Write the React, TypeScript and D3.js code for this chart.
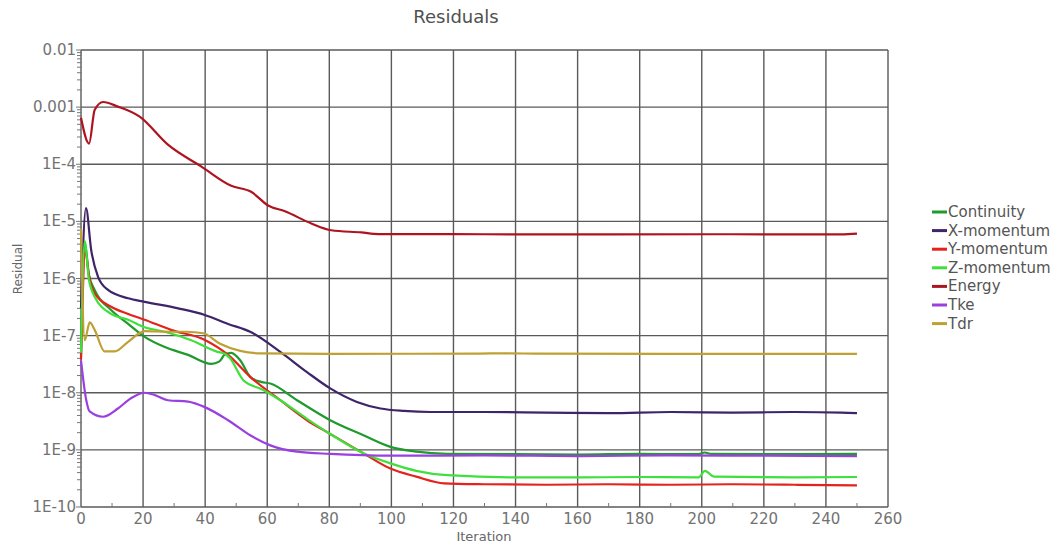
import React from 'react';
import * as d3 from 'd3';

// [iteration, residual]
const continuity: [number, number][] = [
  [0, 4.3e-8], [1.3, 4.1e-6], [2.5, 1.2e-6], [4.4, 6.3e-7], [9.7, 2.8e-7], [15.2, 1.6e-7],
  [20.5, 9.5e-8], [27, 6.3e-8], [34.5, 4.6e-8], [42, 3.2e-8], [44.5, 3.5e-8], [46.4, 4.7e-8],
  [48.4, 5.0e-8], [51.3, 3.7e-8], [54.5, 1.9e-8], [58, 1.55e-8], [61, 1.45e-8], [69.6, 7.4e-9],
  [80.3, 3.3e-9], [91, 1.8e-9], [99.7, 1.13e-9], [108, 9.3e-10], [118, 8.5e-10], [140, 8.4e-10],
  [160, 8.3e-10], [180, 8.5e-10], [199, 8.4e-10], [201, 9.0e-10], [203, 8.5e-10], [230, 8.4e-10],
  [250, 8.5e-10],
];
const xMomentum: [number, number][] = [
  [0, 3e-7], [1.6, 1.7e-5], [3.3, 3.1e-6], [5.5, 1.07e-6], [8.7, 6.3e-7], [15.2, 4.5e-7],
  [20.5, 3.9e-7], [31.3, 3.0e-7], [39.9, 2.3e-7], [47.4, 1.6e-7], [54.5, 1.17e-7], [64.2, 5.2e-8],
  [72.8, 2.3e-8], [80.3, 1.19e-8], [88.9, 6.9e-9], [96.5, 5.3e-9], [104, 4.8e-9], [112.6, 4.6e-9],
  [130, 4.6e-9], [150, 4.5e-9], [170, 4.4e-9], [190, 4.6e-9], [210, 4.5e-9], [230, 4.6e-9],
  [245, 4.5e-9], [250, 4.4e-9],
];
const yMomentum: [number, number][] = [
  [0, 3.8e-8], [1.4, 3.0e-6], [2.6, 1.1e-6], [4.4, 5.5e-7], [9.7, 3.2e-7], [15.2, 2.4e-7],
  [20.5, 1.9e-7], [29, 1.26e-7], [39.9, 8.4e-8], [47.4, 4.6e-8], [54.5, 1.9e-8], [64.2, 7.4e-9],
  [72.8, 3.3e-9], [80.3, 1.9e-9], [91, 8.7e-10], [99.7, 4.7e-10], [108, 3.4e-10], [117, 2.6e-10],
  [130, 2.5e-10], [150, 2.45e-10], [170, 2.5e-10], [190, 2.45e-10], [210, 2.5e-10], [230, 2.45e-10],
  [250, 2.4e-10],
];
const zMomentum: [number, number][] = [
  [0, 5e-8], [1.2, 4.5e-6], [2.5, 1.0e-6], [4.4, 4.8e-7], [9.7, 2.4e-7], [15.2, 1.9e-7],
  [20.5, 1.4e-7], [27, 1.17e-7], [35.5, 8.3e-8], [44, 5.2e-8], [46.3, 4.8e-8], [48, 4.0e-8],
  [52.3, 1.66e-8], [58.7, 1.12e-8], [64.2, 7.4e-9], [72.8, 3.5e-9], [80.3, 1.9e-9], [91, 8.7e-10],
  [99.7, 5.8e-10], [108, 4.3e-10], [118, 3.6e-10], [140, 3.3e-10], [160, 3.3e-10], [180, 3.35e-10],
  [199, 3.3e-10], [201, 4.3e-10], [204, 3.4e-10], [230, 3.3e-10], [250, 3.35e-10],
];
const energy: [number, number][] = [
  [0, 6.5e-4], [2.6, 2.3e-4], [4.4, 8.9e-4], [7.1, 1.23e-3], [11.9, 1.02e-3], [18.9, 6.8e-4],
  [28, 2.2e-4], [38.8, 9.1e-5], [48.4, 4.2e-5], [54.8, 3.3e-5], [60.3, 1.9e-5], [65.7, 1.5e-5],
  [74.2, 9.2e-6], [80.6, 7.0e-6], [90.3, 6.4e-6], [95.8, 6.0e-6], [130, 5.95e-6], [170, 5.9e-6],
  [210, 5.95e-6], [245, 5.9e-6], [250, 6.1e-6],
];
const tke: [number, number][] = [
  [0, 3.7e-8], [1.7, 7.4e-9], [2.8, 4.7e-9], [7.1, 3.8e-9], [11.9, 5.3e-9], [16.1, 8.0e-9],
  [20.5, 1.0e-8], [23.8, 9.1e-9], [28, 7.4e-9], [34.5, 7.0e-9], [39.9, 5.6e-9], [47.4, 3.3e-9],
  [54.5, 1.8e-9], [61, 1.2e-9], [69.6, 9.3e-10], [80.3, 8.5e-10], [100, 7.9e-10], [130, 8.0e-10],
  [160, 7.8e-10], [190, 8.0e-10], [220, 7.9e-10], [250, 7.8e-10],
];
const tdr: [number, number][] = [
  [0, 7.5e-6], [1.2, 8.3e-8], [2.8, 1.7e-7], [4.4, 1.26e-7], [7.6, 5.3e-8], [10.9, 5.3e-8],
  [15.2, 7.8e-8], [20.5, 1.2e-7], [28.7, 1.17e-7], [34, 1.17e-7], [39.4, 1.1e-7], [44.8, 7.2e-8],
  [51.3, 5.4e-8], [57.7, 4.9e-8], [80, 4.8e-8], [128, 4.85e-8], [137, 4.9e-8], [146, 4.85e-8],
  [190, 4.8e-8], [220, 4.8e-8], [250, 4.8e-8],
];

const seriesNames = ['Continuity', 'X-momentum', 'Y-momentum', 'Z-momentum', 'Energy', 'Tke', 'Tdr'];
const seriesData = [continuity, xMomentum, yMomentum, zMomentum, energy, tke, tdr];
const colors = ['#1f9a2c', '#3e2468', '#e3231c', '#3fe03c', '#ad1420', '#9a3fe0', '#bfa032'];

const xTicks = d3.range(0, 261, 20);
const yTicks = [1e-2, 1e-3, 1e-4, 1e-5, 1e-6, 1e-7, 1e-8, 1e-9, 1e-10];
const yTickLabels = ['0.01', '0.001', '1E-4', '1E-5', '1E-6', '1E-7', '1E-8', '1E-9', '1E-10'];

export default function App() {
  const width = 1063;
  const height = 547;
  const x = d3.scaleLinear().domain([0, 260]).range([81, 888]);
  const y = d3.scaleLog().domain([1e-10, 1e-2]).range([507, 50]);
  const line = d3.line<[number, number]>()
    .x(d => x(d[0]))
    .y(d => y(d[1]))
    .curve(d3.curveMonotoneX);

  const minorY: number[] = [];
  for (let e = -10; e < -2; e++) {
    for (let m = 2; m <= 9; m++) minorY.push(m * Math.pow(10, e));
  }
  const minorX = d3.range(10, 260, 20);
  const font = 'DejaVu Sans, sans-serif';

  return (
    <svg width={width} height={height} style={{ position: 'absolute', left: 0, top: 0, background: '#fff' }}>
      <text x={456} y={23} textAnchor="middle" fontFamily={font} fontSize={18} fill="#505050">Residuals</text>

      {/* grid */}
      {xTicks.map(t => (
        <line key={'gx' + t} x1={x(t)} x2={x(t)} y1={y(1e-2)} y2={y(1e-10)} stroke="#5a5a5a" strokeWidth={1.4} />
      ))}
      {yTicks.map(t => (
        <line key={'gy' + t} x1={x(0)} x2={x(260)} y1={y(t)} y2={y(t)} stroke="#5a5a5a" strokeWidth={1.4} />
      ))}

      {/* minor ticks */}
      {minorY.map((t, i) => (
        <line key={'my' + i} x1={x(0) - 4} x2={x(0) + 1} y1={y(t)} y2={y(t)} stroke="#777" strokeWidth={1} />
      ))}
      {yTicks.map(t => (
        <line key={'ty' + t} x1={x(0) - 5} x2={x(0)} y1={y(t)} y2={y(t)} stroke="#777" strokeWidth={1} />
      ))}
      {minorX.map(t => (
        <line key={'mx' + t} x1={x(t)} x2={x(t)} y1={y(1e-10)} y2={y(1e-10) - 4} stroke="#777" strokeWidth={1} />
      ))}

      {/* tick labels */}
      {yTicks.map((t, i) => (
        <text key={'ly' + t} x={x(0) - 5} y={y(t) + 5} textAnchor="end" fontFamily={font} fontSize={15} fill="#727272">
          {yTickLabels[i]}
        </text>
      ))}
      {xTicks.map(t => (
        <text key={'lx' + t} x={x(t)} y={524} textAnchor="middle" fontFamily={font} fontSize={15} fill="#727272">
          {t}
        </text>
      ))}

      <text x={484} y={541} textAnchor="middle" fontFamily={font} fontSize={13} fill="#666">Iteration</text>
      <text transform="translate(22,269) rotate(-90)" textAnchor="middle" fontFamily={font} fontSize={12} fill="#666">Residual</text>

      {/* series */}
      {seriesData.map((d, i) => (
        <path key={seriesNames[i]} d={line(d) || ''} fill="none" stroke={colors[i]} strokeWidth={2.2} strokeLinejoin="round" />
      ))}

      {/* legend */}
      {seriesNames.map((n, i) => (
        <g key={'lg' + n} transform={`translate(932,${212 + i * 18.6})`}>
          <line x1={0} x2={15} y1={0} y2={0} stroke={colors[i]} strokeWidth={3} />
          <text x={16} y={5} fontFamily={font} fontSize={15} fill="#555">{n}</text>
        </g>
      ))}
    </svg>
  );
}
